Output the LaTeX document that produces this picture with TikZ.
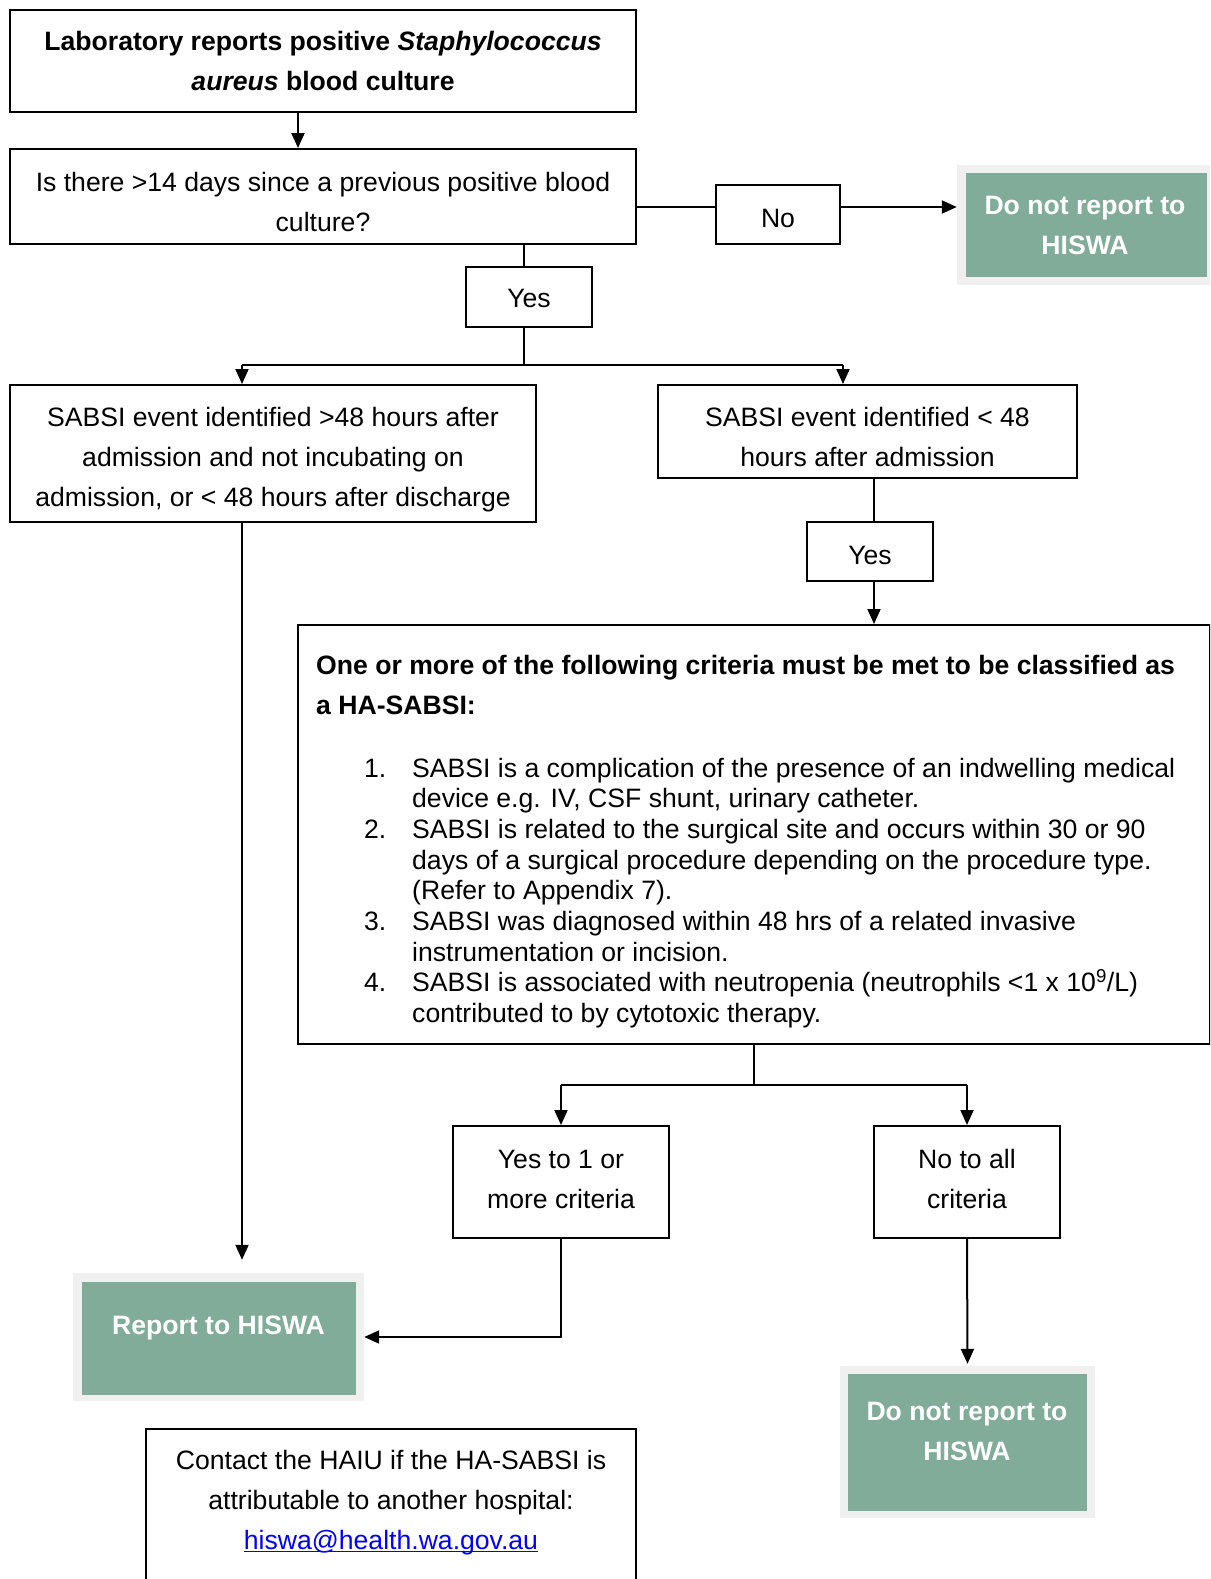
\documentclass[tikz,border=0pt]{standalone}
\usepackage{fontspec}
\setmainfont{Liberation Sans}
\usetikzlibrary{arrows.meta}
\definecolor{sagegreen}{RGB}{128,172,153}
\definecolor{lightframe}{RGB}{240,240,240}
\definecolor{linkblue}{RGB}{0,0,255}
\newcommand\myfsz{\fontsize{26.6}{40}\selectfont}
\newcommand\mylistfsz{\fontsize{26.6}{30.7}\selectfont}
\newcommand\topstrut[1]{\rule{0pt}{#1}}
\newcommand\botstrut[1]{\rule[-#1]{0pt}{#1}}
\tikzset{
  box/.style={draw=black, line width=2pt, inner sep=0pt, align=center, font=\myfsz},
  frame/.style={fill=lightframe, draw=none, inner sep=0pt},
  greenbox/.style={fill=sagegreen, draw=none, inner sep=0pt},
  greentext/.style={text=white, font=\myfsz\bfseries, align=center, inner sep=0pt},
  plaintext/.style={inner sep=0pt, align=center, font=\myfsz},
  conn/.style={line width=2pt},
  arr/.style={line width=2pt, -{Triangle[length=15pt,width=13pt]}},
}
\begin{document}
\begin{tikzpicture}[x=1pt,y=-1pt]
\useasboundingbox (0,0) rectangle (1210,1579);
\clip (0,0) rectangle (1210,1579);
\fill[white] (0,0) rectangle (1210,1579);

% coordinates for connector bends
\coordinate (cT) at (298,130);
\coordinate (cN) at (700,207);
\coordinate (cM) at (524,365);
\coordinate (cL) at (242,365);
\coordinate (cR) at (843,365);
\coordinate (cY2) at (874,500);
\coordinate (cB) at (754,1085);
\coordinate (cB1) at (561,1085);
\coordinate (cB2) at (967,1085);

% boxes
\node[box, minimum width=626pt, minimum height=102pt] (n1) at (323,61)
  {\textbf{Laboratory reports positive \textit{Staphylococcus}}\\ \textbf{\textit{aureus} blood culture}};
\node[box, minimum width=626pt, minimum height=95pt] (n2) at (323,196.5)
  {\topstrut{30pt}Is there >14 days since a previous positive blood\\culture?};
\node[box, minimum width=124pt, minimum height=59pt] (no) at (778,214.5) {\topstrut{25.5pt}No};

\node[frame, minimum width=253pt, minimum height=120pt] (g1o) at (1083.5,225) {};
\node[greenbox, minimum width=241pt, minimum height=104pt] (g1i) at (1086.5,225) {};
\node[greentext] (g1t) at (1085,225) {Do not report to\\HISWA};

\node[box, minimum width=126pt, minimum height=60pt] (yes1) at (529,297) {\topstrut{21.5pt}Yes};

\node[box, minimum width=526pt, minimum height=137pt] (n3) at (273,453.5)
  {\topstrut{31.5pt}SABSI event identified >48 hours after\\admission and not incubating on\\admission, or < 48 hours after discharge};
\node[box, minimum width=419pt, minimum height=93pt] (n4) at (867.5,431.5)
  {\topstrut{30pt}SABSI event identified < 48\\hours after admission};
\node[box, minimum width=126pt, minimum height=59pt] (yes2) at (870,551.5) {\topstrut{25.5pt}Yes};

\node[box, minimum width=912pt, minimum height=419pt] (crit) at (754,834.5) {};
\node[inner sep=0pt, anchor=base west] (crithead) at (316,674)
  {\parbox[t]{880pt}{\myfsz\bfseries One or more of the following criteria must be met to be classified as\\a HA-SABSI:}};
\node[inner sep=0pt, anchor=base west] (critlist) at (364,777)
  {\parbox[t]{840pt}{\mylistfsz
  \makebox[48pt][l]{1.}SABSI is a complication of the presence of an indwelling medical\\
  \hspace*{48pt}device e.g. IV, CSF shunt, urinary catheter.\\
  \makebox[48pt][l]{2.}SABSI is related to the surgical site and occurs within 30 or 90\\
  \hspace*{48pt}days of a surgical procedure depending on the procedure type.\\
  \hspace*{48pt}(Refer to Appendix 7).\\
  \makebox[48pt][l]{3.}SABSI was diagnosed within 48 hrs of a related invasive\\
  \hspace*{48pt}instrumentation or incision.\\
  \makebox[48pt][l]{4.}SABSI is associated with neutropenia (neutrophils <1 x 10\textsuperscript{9}/L)\\
  \hspace*{48pt}contributed to by cytotoxic therapy.}};

\node[box, minimum width=216pt, minimum height=112pt] (yes3) at (561,1182) {Yes to 1 or\\more criteria\botstrut{6pt}};
\node[box, minimum width=186pt, minimum height=112pt] (no3) at (967,1182) {No to all\\criteria\botstrut{6pt}};

\node[frame, minimum width=291pt, minimum height=128pt] (repo) at (218.5,1337) {};
\node[greenbox, minimum width=274pt, minimum height=113pt] (repi) at (219,1338.5) {};
\node[greentext] (rept) at (218.5,1328) {Report to HISWA};

\node[frame, minimum width=255pt, minimum height=152pt] (dn2o) at (967.5,1442) {};
\node[greenbox, minimum width=239pt, minimum height=137pt] (dn2i) at (967.5,1442.5) {};
\node[greentext] (dn2t) at (967,1431) {Do not report to\\HISWA};

\node[box, minimum width=490pt, minimum height=211pt] (contact) at (391,1534.5) {};
\node[plaintext] (contactt) at (391,1501)
  {Contact the HAIU if the HA-SABSI is\\attributable to another hospital:\\
   \textcolor{linkblue}{\underline{\smash{hiswa@health.wa.gov.au}}}};

% connectors
\draw[arr] (n1.south -| cT) -- (n2.north -| cT);
\draw[conn] (n2.east |- cN) -- (no.west |- cN);
\draw[arr] (no.east |- cN) -- (g1o.west |- cN);
\draw[conn] (n2.south -| cM) -- (yes1.north -| cM);
\draw[conn] (yes1.south -| cM) -- (cM);
\draw[conn] (cL) -- (cR);
\draw[arr] (cL) -- (n3.north -| cL);
\draw[arr] (cR) -- (n4.north -| cR);
\draw[conn] (n4.south -| cY2) -- (yes2.north -| cY2);
\draw[arr] (yes2.south -| cY2) -- (crit.north -| cY2);
\draw[conn] (crit.south -| cB) -- (cB);
\draw[conn] (cB1) -- (cB2);
\draw[arr] (cB1) -- (yes3.north);
\draw[arr] (cB2) -- (no3.north);
\draw[arr, shorten >=13pt] (n3.south -| cL) -- (repo.north -| cL);
\draw[arr] (yes3.south) |- (repo.east);
\draw[arr, shorten >=2pt] (no3.south) -- (dn2o.north);
\end{tikzpicture}
\end{document}
